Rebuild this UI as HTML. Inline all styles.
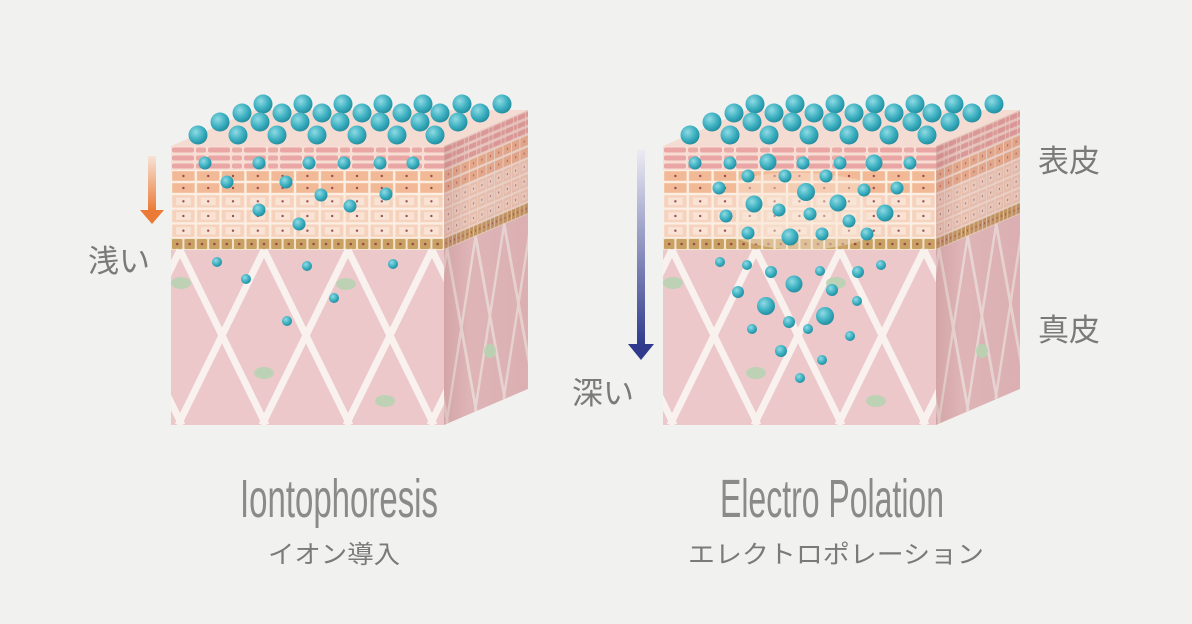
<!DOCTYPE html>
<html><head><meta charset="utf-8"><style>
html,body{margin:0;padding:0;background:#f1f1ef;}
svg{display:block;}
</style></head><body>
<svg width="1192" height="624" viewBox="0 0 1192 624" xmlns="http://www.w3.org/2000/svg">
<defs>
  <radialGradient id="ball" cx="0.38" cy="0.35" r="0.7">
    <stop offset="0" stop-color="#8fdbe4"/>
    <stop offset="0.6" stop-color="#3aaebf"/>
    <stop offset="1" stop-color="#1f8a9c"/>
  </radialGradient>
  <linearGradient id="orng" x1="0" y1="0" x2="0" y2="1">
    <stop offset="0" stop-color="#f6e2d6"/>
    <stop offset="1" stop-color="#ea7a36"/>
  </linearGradient>
  <linearGradient id="blu" x1="0" y1="0" x2="0" y2="1">
    <stop offset="0" stop-color="#ecebf3"/>
    <stop offset="1" stop-color="#2f3a8c"/>
  </linearGradient>
  <linearGradient id="sideShade" x1="0" y1="0" x2="1" y2="0">
    <stop offset="0" stop-color="#a05a5a" stop-opacity="0.32"/>
    <stop offset="0.3" stop-color="#a05a5a" stop-opacity="0.18"/>
    <stop offset="1" stop-color="#a05a5a" stop-opacity="0.22"/>
  </linearGradient>
  <pattern id="brick" x="0" y="146" width="36" height="8" patternUnits="userSpaceOnUse">
    <rect width="36" height="8" fill="#f7ddd4"/>
    <rect x="1" y="1.5" width="22" height="5" rx="2" fill="#e9a6a4"/>
    <rect x="25" y="1.5" width="10" height="5" rx="2" fill="#eaaaa6"/>
  </pattern>
  <pattern id="cellA" x="0" y="170" width="24.8" height="12" patternUnits="userSpaceOnUse">
    <rect width="24.8" height="12" fill="#fbeee2"/>
    <rect x="1.2" y="1.2" width="22.4" height="9.6" fill="#f2b996"/>
    <circle cx="12.4" cy="6" r="1.2" fill="#9a4a4a"/>
  </pattern>
  <pattern id="cellB" x="0" y="194" width="24.8" height="14.7" patternUnits="userSpaceOnUse">
    <rect width="24.8" height="14.7" fill="#fbeee2"/>
    <rect x="1.2" y="1.2" width="22.4" height="12.3" fill="#f6d2bd"/>
    <rect x="5" y="3.5" width="14.8" height="7.7" fill="#f9e3d5"/>
    <circle cx="12.4" cy="7.3" r="1.2" fill="#9a4a4a"/>
  </pattern>
  <pattern id="basal" x="0" y="238" width="12.4" height="12" patternUnits="userSpaceOnUse">
    <rect width="12.4" height="12" fill="#f3e3cf"/>
    <rect x="1" y="1" width="10.4" height="10" rx="1" fill="#c9a163"/>
    <circle cx="6.2" cy="6" r="1.3" fill="#9a4a4a"/>
  </pattern>
  <clipPath id="cf"><rect x="0" y="146" width="273" height="279"/></clipPath>
  <clipPath id="cs"><rect x="0" y="146" width="247" height="279"/></clipPath>
  <g id="front">
    <rect x="-10" y="146" width="300" height="24" fill="url(#brick)"/>
    <rect x="-10" y="170" width="300" height="24" fill="url(#cellA)"/>
    <rect x="-10" y="194" width="300" height="44" fill="url(#cellB)"/>
    <rect x="-10" y="238" width="300" height="12" fill="url(#basal)"/>
    <rect x="-10" y="250" width="300" height="175" fill="#ecc8cb"/>
    <g stroke="#f8f1ee" stroke-width="7" fill="none">
      <path d="M-159,250 L-73,425 M-75,250 L11,425 M9,250 L95,425 M93,250 L179,425 M177,250 L263,425 M261,250 L347,425
               M-75,250 L-161,425 M9,250 L-77,425 M93,250 L7,425 M177,250 L91,425 M261,250 L175,425 M345,250 L259,425"/>
    </g>
  </g>
  <g id="cube">
    <polygon points="0,146 273,146 357,110 84,110" fill="#f4dcd2"/>
    <g clip-path="url(#cf)"><use href="#front"/></g>
    <g transform="matrix(0.34,-0.1457,0,1,273,0)">
      <g clip-path="url(#cs)"><use href="#front"/></g>
      <rect x="0" y="146" width="247" height="279" fill="url(#sideShade)"/>
    </g>
  </g>
  <g id="topballs" fill="url(#ball)">
    <circle cx="263" cy="104" r="9.5"/><circle cx="303" cy="104" r="9.5"/><circle cx="343" cy="104" r="9.5"/><circle cx="383" cy="104" r="9.5"/><circle cx="423" cy="104" r="9.5"/><circle cx="462" cy="104" r="9.5"/><circle cx="502" cy="104" r="9.5"/>
    <circle cx="242" cy="113" r="9.5"/><circle cx="282" cy="113" r="9.5"/><circle cx="322" cy="113" r="9.5"/><circle cx="362" cy="113" r="9.5"/><circle cx="402" cy="113" r="9.5"/><circle cx="440" cy="113" r="9.5"/><circle cx="480" cy="113" r="9.5"/>
    <circle cx="220" cy="122" r="9.5"/><circle cx="260" cy="122" r="9.5"/><circle cx="300" cy="122" r="9.5"/><circle cx="340" cy="122" r="9.5"/><circle cx="380" cy="122" r="9.5"/><circle cx="420" cy="122" r="9.5"/><circle cx="458" cy="122" r="9.5"/>
    <circle cx="198" cy="135" r="9.5"/><circle cx="238" cy="135" r="9.5"/><circle cx="277" cy="135" r="9.5"/><circle cx="317" cy="135" r="9.5"/><circle cx="357" cy="135" r="9.5"/><circle cx="397" cy="135" r="9.5"/><circle cx="435" cy="135" r="9.5"/>
  </g>
</defs>

<rect width="1192" height="624" fill="#f1f1ef"/>

<!-- left cube -->
<use href="#cube" transform="translate(171,0)"/>
<g fill="#b5d3b0" opacity="0.85">
  <ellipse cx="181" cy="283" rx="10" ry="6"/><ellipse cx="346" cy="284" rx="10" ry="6"/>
  <ellipse cx="264" cy="373" rx="10" ry="6"/><ellipse cx="385" cy="401" rx="10" ry="6"/>
  <ellipse cx="490" cy="351" rx="6" ry="7"/>
</g>
<use href="#topballs"/>
<g fill="url(#ball)">
  <circle cx="205" cy="163" r="6.5"/><circle cx="259" cy="163" r="6.5"/><circle cx="309" cy="163" r="6.5"/><circle cx="344" cy="163" r="6.5"/><circle cx="380" cy="163" r="6.5"/><circle cx="413" cy="163" r="6.5"/>
  <circle cx="227" cy="182" r="6.5"/><circle cx="286" cy="182" r="6.5"/><circle cx="321" cy="195" r="6.5"/><circle cx="350" cy="206" r="6.5"/><circle cx="386" cy="194" r="6.5"/><circle cx="259" cy="210" r="6.5"/><circle cx="299" cy="224" r="6.5"/>
  <circle cx="217" cy="262" r="5"/><circle cx="307" cy="266" r="5"/><circle cx="393" cy="264" r="5"/><circle cx="246" cy="279" r="5"/><circle cx="334" cy="298" r="5"/><circle cx="287" cy="321" r="5"/>
</g>

<!-- right cube -->
<use href="#cube" transform="translate(663,0)"/>
<path d="M738,180 Q790,165 860,180 L870,238 Q800,262 735,238 Z" fill="#f9e6d8" opacity="0.45"/>
<g fill="#b5d3b0" opacity="0.85">
  <ellipse cx="673" cy="283" rx="10" ry="6"/><ellipse cx="836" cy="283" rx="10" ry="6"/>
  <ellipse cx="756" cy="373" rx="10" ry="6"/><ellipse cx="876" cy="401" rx="10" ry="6"/>
  <ellipse cx="982" cy="351" rx="6" ry="7"/>
</g>
<use href="#topballs" transform="translate(492,0)"/>
<g fill="url(#ball)">
  <circle cx="695" cy="163" r="6.5"/><circle cx="730" cy="163" r="6.5"/><circle cx="768" cy="162" r="8.5"/><circle cx="803" cy="163" r="6.5"/><circle cx="840" cy="163" r="6.5"/><circle cx="874" cy="163" r="8.5"/><circle cx="910" cy="163" r="6.5"/>
  <circle cx="719" cy="188" r="6.5"/><circle cx="748" cy="176" r="6.5"/><circle cx="785" cy="176" r="6.5"/><circle cx="806" cy="192" r="9"/><circle cx="826" cy="176" r="6.5"/><circle cx="864" cy="190" r="6.5"/><circle cx="897" cy="188" r="6.5"/>
  <circle cx="726" cy="216" r="6.5"/><circle cx="754" cy="204" r="8.5"/><circle cx="779" cy="210" r="6.5"/><circle cx="810" cy="214" r="6.5"/><circle cx="838" cy="203" r="8.5"/><circle cx="849" cy="221" r="6.5"/><circle cx="885" cy="213" r="8.5"/>
  <circle cx="748" cy="233" r="6.5"/><circle cx="790" cy="237" r="8.5"/><circle cx="822" cy="234" r="6.5"/><circle cx="867" cy="234" r="6.5"/>
  <circle cx="720" cy="262" r="5"/><circle cx="747" cy="265" r="5"/><circle cx="771" cy="272" r="6"/><circle cx="820" cy="271" r="5"/><circle cx="858" cy="272" r="6"/><circle cx="881" cy="265" r="5"/>
  <circle cx="738" cy="292" r="6"/><circle cx="794" cy="284" r="8.5"/><circle cx="832" cy="290" r="6"/><circle cx="857" cy="301" r="5"/>
  <circle cx="766" cy="306" r="9"/><circle cx="825" cy="316" r="9"/><circle cx="808" cy="329" r="5"/><circle cx="789" cy="322" r="6"/>
  <circle cx="752" cy="329" r="5"/><circle cx="850" cy="336" r="5"/><circle cx="781" cy="351" r="6"/><circle cx="822" cy="360" r="5"/><circle cx="800" cy="378" r="5"/>
</g>

<!-- arrows -->
<rect x="148" y="156" width="8" height="55" fill="url(#orng)"/>
<polygon points="140,210 164,210 152,224" fill="#ea7a36"/>
<rect x="637" y="150" width="8" height="196" fill="url(#blu)"/>
<polygon points="628,344 654,344 641,360" fill="#2f3a8c"/>

<!-- labels -->
<g font-family="'Liberation Sans','Noto Sans CJK JP',sans-serif" fill="#7a7a7a">
  <text x="88" y="272" font-size="31">浅い</text>
  <text x="572" y="404" font-size="31">深い</text>
  <text x="1038" y="172" font-size="31">表皮</text>
  <text x="1038" y="341" font-size="31">真皮</text>
  <text x="240" y="517" font-size="54" textLength="198" lengthAdjust="spacingAndGlyphs" fill="#8a8a8a">Iontophoresis</text>
  <text x="720" y="517" font-size="54" textLength="224" lengthAdjust="spacingAndGlyphs" fill="#8a8a8a">Electro Polation</text>
  <text x="268" y="563" font-size="25" textLength="132" lengthAdjust="spacingAndGlyphs">イオン導入</text>
  <text x="688" y="563" font-size="25" textLength="296" lengthAdjust="spacingAndGlyphs">エレクトロポレーション</text>
</g>
</svg>
</body></html>
